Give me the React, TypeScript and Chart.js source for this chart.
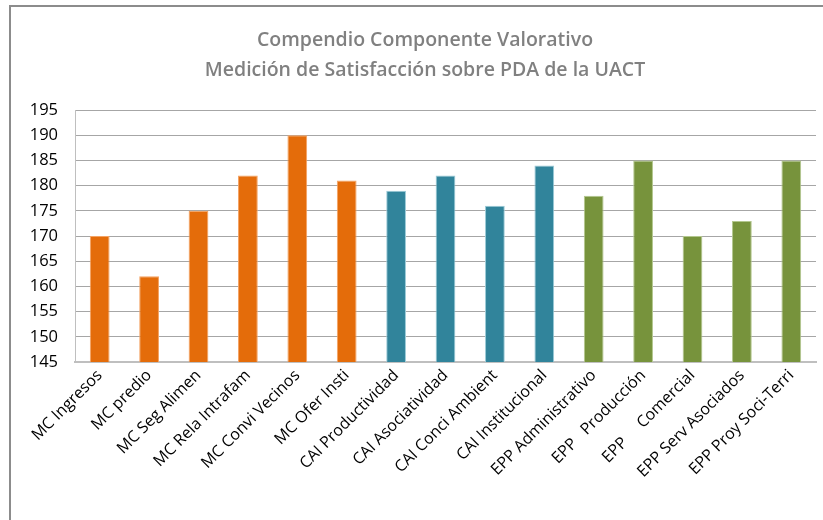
import React, { useEffect, useRef } from "react";
import { Chart, registerables } from "chart.js";

Chart.register(...registerables);

const titleLines = ["Compendio Componente Valorativo", "Medición de Satisfacción sobre PDA de la UACT"];

const categories = [
  "MC Ingresos",
  "MC predio",
  "MC Seg Alimen",
  "MC Rela Intrafam",
  "MC Convi Vecinos",
  "MC Ofer Insti",
  "CAI Productividad",
  "CAI Asociatividad",
  "CAI Conci Ambient",
  "CAI Institucional",
  "EPP Administrativo",
  "EPP   Producción",
  "EPP     Comercial",
  "EPP Serv Asociados",
  "EPP Proy Soci-Terri",
];

const values = [170, 162, 175, 182, 190, 181, 179, 182, 176, 184, 178, 185, 170, 173, 185];

const groups = ["MC", "MC", "MC", "MC", "MC", "MC", "CAI", "CAI", "CAI", "CAI", "EPP", "EPP", "EPP", "EPP", "EPP"];

const yMin = 145;
const yMax = 195;
const yStep = 5;

const groupColors: Record<string, string> = {
  MC: "#E46C0A",
  CAI: "#31849B",
  EPP: "#77933C",
};
const groupBorders: Record<string, string> = {
  MC: "#F4A262",
  CAI: "#9CCBD8",
  EPP: "#B3C78E",
};

const titlePlugin = {
  id: "customTitle",
  afterDraw(chart: any) {
    const ctx = chart.ctx;
    ctx.save();
    ctx.font = "600 19.5px 'Open Sans'";
    ctx.fillStyle = "#808080";
    ctx.textAlign = "center";
    ctx.textBaseline = "middle";
    ctx.fillText(titleLines[0], 425, 40);
    ctx.fillText(titleLines[1], 425, 70);
    ctx.restore();
  },
};

export default function App() {
  const ref = useRef<HTMLCanvasElement>(null);
  useEffect(() => {
    if (!ref.current) return;
    const chart = new Chart(ref.current, {
      type: "bar",
      data: {
        labels: categories,
        datasets: [
          {
            data: values,
            backgroundColor: groups.map((g) => groupColors[g]),
            borderColor: groups.map((g) => groupBorders[g]),
            borderWidth: 1,
            barPercentage: 0.4,
            categoryPercentage: 1,
          },
        ],
      },
      options: {
        responsive: false,
        animation: false,
        devicePixelRatio: 1,
        layout: { padding: { top: 110, right: 7, left: 0, bottom: 0 } },
        plugins: { legend: { display: false }, title: { display: false }, tooltip: { enabled: false } },
        scales: {
          x: {
            grid: { display: false, drawTicks: false },
            border: { display: true, color: "#bfbfbf", width: 2 },
            ticks: {
              minRotation: 45,
              maxRotation: 45,
              autoSkip: false,
              padding: 4,
              color: "#000",
              font: { family: "'Open Sans'", size: 16 },
            },
            afterFit: (s: any) => {
              s.height = 158;
            },
          },
          y: {
            min: yMin,
            max: yMax,
            grid: { color: "#a6a6a6", lineWidth: 1, drawTicks: false },
            border: { display: true, color: "#bfbfbf", width: 1 },
            ticks: {
              stepSize: yStep,
              padding: 17,
              color: "#000",
              font: { family: "'Open Sans'", size: 16.5 },
            },
            afterFit: (s: any) => {
              s.width = 75;
            },
          },
        },
      },
      plugins: [titlePlugin],
    });
    return () => chart.destroy();
  }, []);
  return (
    <div style={{ position: "absolute", left: 0, top: 0, width: 823, height: 520, background: "#fff" }}>
      <canvas ref={ref} width={823} height={520} style={{ display: "block" }} />
      <div
        style={{
          position: "absolute",
          left: 9,
          top: 5,
          width: 814,
          height: 515,
          borderLeft: "2px solid #8c8c8c",
          borderTop: "2px solid #8c8c8c",
          boxSizing: "border-box",
          pointerEvents: "none",
        }}
      />
    </div>
  );
}
